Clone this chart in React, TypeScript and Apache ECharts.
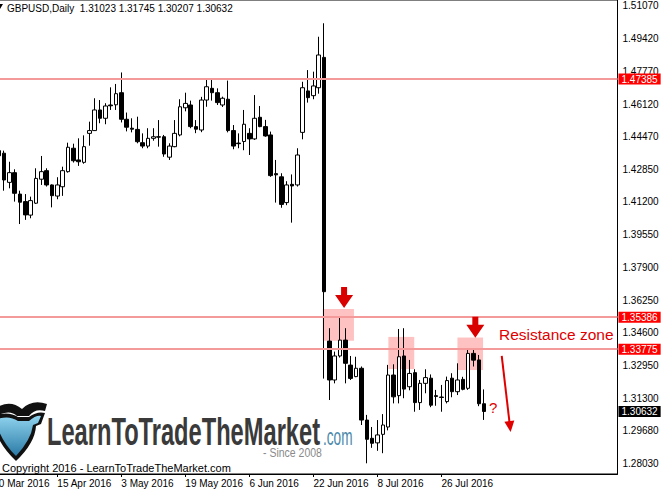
import React, { useEffect, useRef } from "react";
import * as echarts from "echarts";

const dates = [
  "2016-03-30", "2016-03-31",
  "2016-04-01", "2016-04-04", "2016-04-05", "2016-04-06", "2016-04-07", "2016-04-08",
  "2016-04-11", "2016-04-12", "2016-04-13", "2016-04-14", "2016-04-15",
  "2016-04-18", "2016-04-19", "2016-04-20", "2016-04-21", "2016-04-22",
  "2016-04-25", "2016-04-26", "2016-04-27", "2016-04-28", "2016-04-29",
  "2016-05-02", "2016-05-03", "2016-05-04", "2016-05-05", "2016-05-06",
  "2016-05-09", "2016-05-10", "2016-05-11", "2016-05-12", "2016-05-13",
  "2016-05-16", "2016-05-17", "2016-05-18", "2016-05-19", "2016-05-20",
  "2016-05-23", "2016-05-24", "2016-05-25", "2016-05-26", "2016-05-27",
  "2016-05-30", "2016-05-31",
  "2016-06-01", "2016-06-02", "2016-06-03",
  "2016-06-06", "2016-06-07", "2016-06-08", "2016-06-09", "2016-06-10",
  "2016-06-13", "2016-06-14", "2016-06-15", "2016-06-16", "2016-06-17",
  "2016-06-20", "2016-06-21", "2016-06-22", "2016-06-23", "2016-06-24",
  "2016-06-27", "2016-06-28", "2016-06-29", "2016-06-30",
  "2016-07-01",
  "2016-07-04", "2016-07-05", "2016-07-06", "2016-07-07", "2016-07-08",
  "2016-07-11", "2016-07-12", "2016-07-13", "2016-07-14", "2016-07-15",
  "2016-07-18", "2016-07-19", "2016-07-20", "2016-07-21", "2016-07-22",
  "2016-07-25", "2016-07-26", "2016-07-27", "2016-07-28", "2016-07-29",
  "2016-08-01", "2016-08-02", "2016-08-03", "2016-08-04", "2016-08-05",
];

const opens = [null, 1.4378, 1.4365, 1.4218, 1.4267, 1.4159, 1.4121, 1.4053, 1.4113, 1.4234, 1.4277, 1.4205, 1.4149, 1.4196, 1.4272, 1.4390, 1.4331, 1.4319, 1.4465, 1.4479, 1.4583, 1.4541, 1.4608, 1.4609, 1.4670, 1.4536, 1.4491, 1.4485, 1.4418, 1.4401, 1.4440, 1.4448, 1.4448, 1.4345, 1.4398, 1.4457, 1.4594, 1.4608, 1.4499, 1.4482, 1.4633, 1.4692, 1.4670, 1.4608, 1.4637, 1.4479, 1.4416, 1.4424, 1.4465, 1.4437, 1.4546, 1.4499, 1.4457, 1.4262, 1.4246, 1.4116, 1.4208, 1.4205, 1.4470, 1.4679, 1.4655, 1.4695, 1.4848, 1.3418, 1.3222, 1.3343, 1.3423, 1.3297, 1.3239, 1.3281, 1.3020, 1.2928, 1.2905, 1.2948, 1.2985, 1.3247, 1.3143, 1.3343, 1.3188, 1.3259, 1.3108, 1.3205, 1.3231, 1.3143, 1.3136, 1.3113, 1.3231, 1.3163, 1.3225, 1.3180, 1.3356, 1.3323, 1.31023];
const closes = [null, 1.4352, 1.4230, 1.4267, 1.4163, 1.4118, 1.4054, 1.4126, 1.4238, 1.4272, 1.4205, 1.4151, 1.4205, 1.4277, 1.4395, 1.4327, 1.4322, 1.4398, 1.4479, 1.4583, 1.4541, 1.4603, 1.4604, 1.4665, 1.4536, 1.4496, 1.4486, 1.4423, 1.4401, 1.4440, 1.4448, 1.4446, 1.4361, 1.4401, 1.4465, 1.4599, 1.4616, 1.4499, 1.4486, 1.4633, 1.4700, 1.4670, 1.4620, 1.4642, 1.4479, 1.4401, 1.4413, 1.4511, 1.4437, 1.4541, 1.4499, 1.4452, 1.4252, 1.4256, 1.4107, 1.4205, 1.4200, 1.4356, 1.4695, 1.4645, 1.4704, 1.4860, 1.3667, 1.3222, 1.3343, 1.3423, 1.3306, 1.3230, 1.3281, 1.3020, 1.2923, 1.2903, 1.2945, 1.2995, 1.3247, 1.3137, 1.3339, 1.3176, 1.3255, 1.3108, 1.3205, 1.3234, 1.3095, 1.3139, 1.3134, 1.3219, 1.3163, 1.3222, 1.3175, 1.3356, 1.3322, 1.31023, 1.30632];
const highs = [null, 1.4405, 1.4378, 1.4322, 1.4284, 1.4176, 1.4159, 1.4146, 1.4289, 1.4351, 1.4289, 1.4208, 1.4244, 1.4297, 1.4418, 1.4413, 1.4440, 1.4455, 1.4524, 1.4642, 1.4633, 1.4617, 1.4697, 1.4714, 1.4772, 1.4570, 1.4541, 1.4549, 1.4465, 1.4491, 1.4491, 1.4532, 1.4457, 1.4415, 1.4532, 1.4637, 1.4670, 1.4630, 1.4532, 1.4649, 1.4734, 1.4738, 1.4692, 1.4650, 1.4731, 1.4507, 1.4465, 1.4583, 1.4491, 1.4658, 1.4603, 1.4533, 1.4474, 1.4331, 1.4264, 1.4224, 1.4258, 1.4390, 1.4725, 1.4784, 1.4776, 1.4952, 1.5020, 1.3483, 1.3365, 1.3541, 1.3483, 1.3343, 1.3339, 1.3290, 1.3046, 1.2985, 1.3020, 1.3050, 1.3298, 1.3301, 1.3479, 1.3483, 1.3323, 1.3276, 1.3222, 1.3276, 1.3250, 1.3172, 1.3197, 1.3239, 1.3256, 1.3306, 1.3238, 1.3373, 1.3376, 1.3348, 1.31745];
const lows = [null, 1.4330, 1.4176, 1.4188, 1.4121, 1.4008, 1.4029, 1.4037, 1.4109, 1.4205, 1.4197, 1.4092, 1.4133, 1.4150, 1.4267, 1.4318, 1.4301, 1.4312, 1.4403, 1.4478, 1.4516, 1.4511, 1.4583, 1.4583, 1.4520, 1.4475, 1.4470, 1.4415, 1.4390, 1.4390, 1.4428, 1.4398, 1.4347, 1.4331, 1.4395, 1.4450, 1.4576, 1.4491, 1.4466, 1.4471, 1.4599, 1.4630, 1.4608, 1.4598, 1.4470, 1.4385, 1.4390, 1.4380, 1.4356, 1.4432, 1.4496, 1.4448, 1.4246, 1.4116, 1.4090, 1.4103, 1.4015, 1.4197, 1.4435, 1.4620, 1.4637, 1.4665, 1.3229, 1.3121, 1.3205, 1.3335, 1.3205, 1.3222, 1.3236, 1.2995, 1.2802, 1.2880, 1.2865, 1.2853, 1.2968, 1.3104, 1.3104, 1.3130, 1.3170, 1.3062, 1.3071, 1.3155, 1.3085, 1.3092, 1.3062, 1.3104, 1.3135, 1.3146, 1.3170, 1.3172, 1.3290, 1.3090, 1.30207];

const xTickDates = ["2016-03-30", "2016-04-15", "2016-05-03", "2016-05-19", "2016-06-06", "2016-06-22", "2016-07-08", "2016-07-26"];
const xTickLabels = ["30 Mar 2016", "15 Apr 2016", "3 May 2016", "19 May 2016", "6 Jun 2016", "22 Jun 2016", "8 Jul 2016", "26 Jul 2016"];
const yTicks = [1.5107, 1.4942, 1.4777, 1.4612, 1.4447, 1.4285, 1.412, 1.3955, 1.379, 1.3625, 1.346, 1.3295, 1.313, 1.2968, 1.2803];
const levelLines = [1.47385, 1.35386, 1.33775];
const lastClose = 1.30632;
// resistance zones: [startIndex, endIndex, topPrice, bottomPrice]
const zones = [
  [61.75, 67.6, 1.358, 1.342],
  [74.05, 78.9, 1.3439, 1.3277],
  [87.0, 91.8, 1.3436, 1.3272],
];
// down arrows: [index, tip price]
const downArrows = [
  [65.75, 1.3585],
  [90.35, 1.3435],
];
// projected move: [startIndex, startPrice, endIndex, endPrice]
const projection = [95.3, 1.3343, 96.85, 1.2987];

const X_MAX = 117;
const Y_MIN = 1.27481;
const Y_MAX = 1.51372;
const FONT = "'Liberation Sans', Arial, sans-serif";

echarts.graphic.registerShape(
  "bullHorn",
  echarts.graphic.extendPath("M-4 6 Q10 -3 22 7 Q32 -3 47 2 L45 9 Q35 6 29 14 L17 14 Q10 7 -4 14 Z", {})
);
echarts.graphic.registerShape(
  "bullHeadOuter",
  echarts.graphic.extendPath("M-4 13 Q9 9 18 15 L29 15 Q37 9 45 11 L41 22 L36 24 Q35 41 16 59 Q1 45 -4 30 Z", {})
);
echarts.graphic.registerShape(
  "bullHeadInner",
  echarts.graphic.extendPath("M-2 17 Q9 13 18 19 L29 19 Q36 13 41 14 L38 21 L33 23 Q31 38 16 54 Q4 42 -1 29 Z", {})
);

export default function App() {
  const ref = useRef<HTMLDivElement>(null);

  useEffect(() => {
    if (!ref.current) return;
    const chart = echarts.init(ref.current, undefined, { renderer: "svg" });

    const candleData: any[] = [];
    for (let i = 0; i < dates.length; i++) {
      if (opens[i] == null) continue;
      candleData.push([i, opens[i], closes[i], lows[i], highs[i]]);
    }
    const tickIdx = xTickDates.map((d) => dates.indexOf(d));

    const priceLabel = (bg: string) => ({
      show: true,
      position: "end",
      distance: 1,
      formatter: (p: any) => Number(p.value).toFixed(5),
      color: "#fff",
      backgroundColor: bg,
      padding: [0, 3, 0, 3],
      lineHeight: 11,
      fontSize: 10,
      fontFamily: FONT,
    });

    const option: any = {
      animation: false,
      backgroundColor: "#ffffff",
      grid: {
        left: -6.7,
        right: 45.5,
        top: 0,
        bottom: 16,
        outerBoundsMode: "none",
        containLabel: false,
        show: true,
        borderColor: "#000",
        borderWidth: 1,
        backgroundColor: "transparent",
      },
      xAxis: {
        type: "value",
        min: 0,
        max: X_MAX,
        axisLine: { show: true, lineStyle: { color: "#000", width: 1 } },
        axisTick: { show: true, customValues: tickIdx, length: 3, lineStyle: { color: "#000" } },
        axisLabel: {
          show: true,
          customValues: tickIdx,
          formatter: (v: number) => {
            const k = tickIdx.indexOf(Math.round(v));
            return k >= 0 ? xTickLabels[k] : "";
          },
          align: "left",
          margin: 4,
          color: "#000",
          fontSize: 10,
          fontFamily: FONT,
        },
        splitLine: { show: false },
      },
      yAxis: {
        type: "value",
        position: "right",
        min: Y_MIN,
        max: Y_MAX,
        axisLine: { show: true, lineStyle: { color: "#a0a0a0", width: 2 } },
        axisTick: { show: true, customValues: yTicks, length: 3, lineStyle: { color: "#808080" } },
        axisLabel: {
          show: true,
          customValues: yTicks,
          formatter: (v: number) => v.toFixed(5),
          margin: 5,
          color: "#000",
          fontSize: 10,
          fontFamily: FONT,
        },
        splitLine: { show: false },
      },
      series: [
        {
          type: "line",
          data: [],
          z: 1,
          clip: false,
          silent: true,
          markLine: {
            silent: true,
            precision: 5,
            symbol: ["none", "none"],
            data: [
              ...levelLines.map((v) => ({
                yAxis: v,
                lineStyle: { color: "#f59a9a", width: 2, type: "solid" },
                label: priceLabel("#ff0000"),
              })),
            ],
          },
        },
        {
          type: "candlestick",
          z: 2,
          barWidth: 4,
          encode: { x: 0, y: [1, 2, 3, 4] },
          data: candleData,
          itemStyle: {
            color: "#ffffff",
            color0: "#000000",
            borderColor: "#000000",
            borderColor0: "#000000",
            borderWidth: 1,
          },
          markLine: {
            silent: true,
            precision: 5,
            symbol: ["none", "none"],
            lineStyle: { color: "rgba(0,0,0,0)", width: 1, type: "solid" },
            data: [{ yAxis: lastClose, label: priceLabel("#000000") }],
          },
        },
        {
          type: "line",
          data: [],
          z: 3,
          silent: true,
          clip: false,
          markArea: {
            silent: true,
            itemStyle: { color: "rgba(255,70,70,0.33)" },
            data: zones.map((z) => [{ coord: [z[0], z[2]] }, { coord: [z[1], z[3]] }]),
          },
          markPoint: {
            silent: true,
            symbol: "path://M6,0 L12,0 L12,8 L18,8 L9,21 L0,8 L6,8 Z",
            symbolSize: [18, 21],
            symbolOffset: [0, "-50%"],
            itemStyle: { color: "#d90000" },
            label: { show: false },
            data: downArrows.map((a) => ({ coord: a })),
          },
          markLine: {
            silent: true,
            precision: 5,
            symbol: ["none", "triangle"],
            symbolSize: [10, 11],
            lineStyle: { color: "#e00000", width: 2, type: "solid" },
            label: { show: false },
            data: [[{ coord: [projection[0], projection[1]] }, { coord: [projection[2], projection[3]] }]],
          },
        },
      ],
      graphic: [
        { type: "polygon", shape: { points: [[-3, 4], [3, 4], [0, 9]] }, style: { fill: "#000" } },
        {
          type: "text",
          x: 7,
          y: 8,
          style: {
            text: "GBPUSD,Daily  1.31023 1.31745 1.30207 1.30632",
            fill: "#000",
            fontSize: 10,
            fontFamily: FONT,
            align: "left",
            verticalAlign: "middle",
          },
        },
        {
          type: "text",
          x: 499,
          y: 334,
          style: {
            text: "Resistance zone",
            fill: "#e00000",
            fontSize: 15.5,
            fontFamily: FONT,
            align: "left",
            verticalAlign: "middle",
          },
        },
        {
          type: "text",
          x: 489,
          y: 407,
          style: {
            text: "?",
            fill: "#e00000",
            fontSize: 15,
            fontFamily: FONT,
            align: "left",
            verticalAlign: "middle",
          },
        },
        { type: "bullHorn", x: 0, y: 402, style: { fill: "#111" } },
        { type: "bullHeadOuter", x: 0, y: 402, style: { fill: "#111" } },
        {
          type: "bullHeadInner",
          x: 0,
          y: 402,
          style: {
            fill: new echarts.graphic.LinearGradient(0, 0, 0, 1, [
              { offset: 0, color: "#8fd3ee" },
              { offset: 1, color: "#2a7aa6" },
            ]),
          },
        },
        {
          type: "text",
          x: 47,
          y: 432,
          scaleX: 0.623,
          style: {
            text: "LearnToTradeTheMarket",
            fill: "#3a3a3a",
            fontSize: 38,
            fontWeight: "bold",
            fontFamily: FONT,
            align: "left",
            verticalAlign: "middle",
          },
        },
        {
          type: "text",
          x: 323,
          y: 436,
          scaleX: 0.567,
          style: {
            text: ".com",
            fill: "#4a88ab",
            fontSize: 24,
            fontFamily: FONT,
            align: "left",
            verticalAlign: "middle",
          },
        },
        {
          type: "text",
          x: 263,
          y: 453,
          scaleX: 0.84,
          style: {
            text: "- Since 2008",
            fill: "#8a8a8a",
            fontSize: 12.5,
            fontFamily: FONT,
            align: "left",
            verticalAlign: "middle",
          },
        },
        {
          type: "text",
          x: 2,
          y: 468,
          style: {
            text: "Copyright 2016 - LearnToTradeTheMarket.com",
            fill: "#000",
            fontSize: 11,
            fontFamily: FONT,
            align: "left",
            verticalAlign: "middle",
          },
        },
      ],
    };

    chart.setOption(option);
    return () => {
      chart.dispose();
    };
  }, []);

  return (
    <div
      ref={ref}
      style={{ position: "absolute", left: 0, top: 0, width: 663, height: 490, background: "#fff" }}
    />
  );
}
